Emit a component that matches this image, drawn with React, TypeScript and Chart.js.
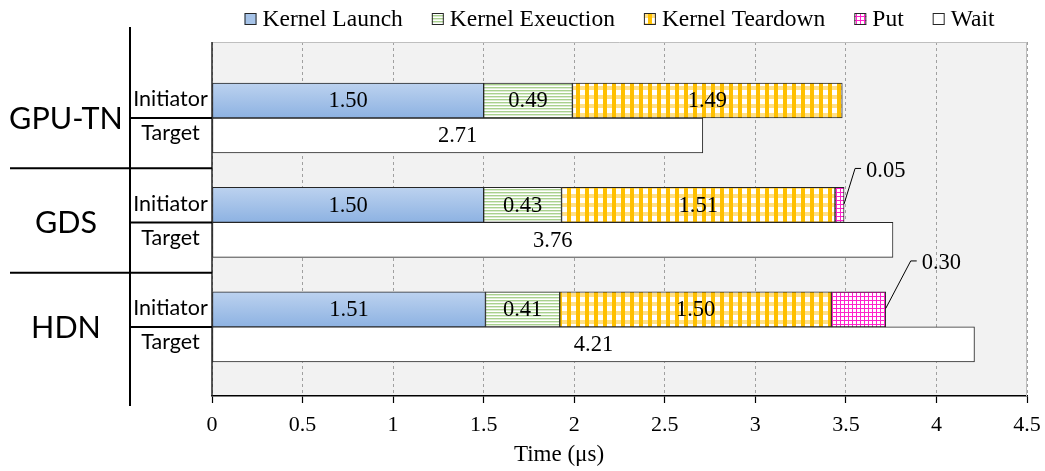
import React, { useEffect, useRef } from 'react';
import { Chart, registerables } from 'chart.js';

Chart.register(...registerables);

// ---------- data ----------
const GROUPS = ['GPU-TN', 'GDS', 'HDN'];
const ROLES = ['Initiator', 'Target'];
const SERIES_NAMES = ['Kernel Launch', 'Kernel Exeuction', 'Kernel Teardown', 'Put', 'Wait'];
const KERNEL_LAUNCH = [1.5, 1.5, 1.51];
const KERNEL_EXECUTION = [0.49, 0.43, 0.41];
const KERNEL_TEARDOWN = [1.49, 1.51, 1.5];
const PUT = [0, 0.05, 0.3];
const WAIT = [2.71, 3.76, 4.21];
const X_MIN = 0;
const X_MAX = 4.5;
const X_STEP = 0.5;
const X_TITLE = 'Time (μs)';

// ---------- layout / style ----------
const Y_MIN = -0.727;
const Y_MAX = 2.661;
const BAR_THICKNESS = 35;
const PUT_CALLOUT_OFFSETS = [
  [0, 0],
  [11, -36.5],
  [25, -48.5],
];
const SERIF = '"Liberation Serif", "Times New Roman", serif';
const SANS = 'Lato, "Open Sans", sans-serif';

function makePattern(
  base: CanvasRenderingContext2D,
  w: number,
  h: number,
  draw: (g: CanvasRenderingContext2D) => void
) {
  const c = document.createElement('canvas');
  c.width = w;
  c.height = h;
  const g = c.getContext('2d')!;
  draw(g);
  return base.createPattern(c, 'repeat')!;
}

export default function App() {
  const ref = useRef<HTMLCanvasElement>(null);

  useEffect(() => {
    const canvas = ref.current!;
    const ctx0 = canvas.getContext('2d')!;

    const execPattern = makePattern(ctx0, 4, 3, (g) => {
      g.fillStyle = '#ffffff';
      g.fillRect(0, 0, 4, 3);
      g.fillStyle = '#a9d18e';
      g.fillRect(0, 0, 4, 1);
      g.fillStyle = '#dcecd2';
      g.fillRect(0, 1, 4, 1);
    });
    const teardownPattern = makePattern(ctx0, 9, 9, (g) => {
      g.fillStyle = '#ffffff';
      g.fillRect(0, 0, 9, 9);
      g.fillStyle = '#ffe08a';
      g.fillRect(0, 5, 9, 4);
      g.fillStyle = '#ffc000';
      g.fillRect(0, 0, 4, 9);
    });
    const putPattern = makePattern(ctx0, 4, 4, (g) => {
      g.fillStyle = '#ffffff';
      g.fillRect(0, 0, 4, 4);
      g.fillStyle = '#ff22cc';
      g.fillRect(0, 0, 4, 1);
      g.fillRect(0, 0, 1, 4);
    });

    const launchFill = (c: any) => {
      const chart = c.chart;
      const ys = chart.scales && chart.scales.y;
      if (!ys || c.dataIndex == null || !chart.chartArea) return '#a6c3e8';
      const yc = ys.getPixelForValue(c.dataIndex);
      const g = chart.ctx.createLinearGradient(0, yc - BAR_THICKNESS, 0, yc);
      g.addColorStop(0, '#bcd2ef');
      g.addColorStop(1, '#8db2e2');
      return g;
    };

    const legendFills: any[] = ['#a6c3e8', execPattern, teardownPattern, putPattern, '#ffffff'];
    const seriesValues = [KERNEL_LAUNCH, KERNEL_EXECUTION, KERNEL_TEARDOWN, PUT, WAIT];
    const stacks = ['initiator', 'initiator', 'initiator', 'initiator', 'target'];
    const fills: any[] = [launchFill, execPattern, teardownPattern, putPattern, '#ffffff'];
    const PUT_INDEX = 3;

    const datasets = seriesValues.map((vals, di) => ({
      label: SERIES_NAMES[di],
      data: vals.map((v, i) => ({ x: v, y: i })),
      stack: stacks[di],
      backgroundColor: fills[di],
      borderColor: '#262626',
      borderWidth: 1,
      borderSkipped: false,
      barThickness: BAR_THICKNESS,
    }));

    const line = (ctx: CanvasRenderingContext2D, x1: number, y1: number, x2: number, y2: number) => {
      ctx.beginPath();
      ctx.moveTo(x1, y1);
      ctx.lineTo(x2, y2);
      ctx.stroke();
    };

    const decor = {
      id: 'decor',
      beforeDraw(chart: any) {
        const { ctx, chartArea: a } = chart;
        ctx.save();
        ctx.fillStyle = '#f2f2f2';
        ctx.fillRect(a.left, a.top, a.right - a.left, a.bottom - a.top);
        ctx.restore();
      },
      afterDatasetsDraw(chart: any) {
        const { ctx } = chart;
        ctx.save();
        ctx.fillStyle = '#000';
        ctx.strokeStyle = '#000';
        ctx.lineWidth = 1;
        ctx.font = `22.5px ${SERIF}`;
        seriesValues.forEach((vals, di) => {
          const meta = chart.getDatasetMeta(di);
          meta.data.forEach((bar: any, i: number) => {
            const v = vals[i];
            if (!v) return;
            const { x, y, base } = bar.getProps(['x', 'y', 'base'], true);
            const txt = v.toFixed(2);
            if (di === PUT_INDEX) {
              const [dx, dy] = PUT_CALLOUT_OFFSETS[i];
              ctx.beginPath();
              ctx.moveTo(x, y - 1);
              ctx.lineTo(x + dx, y + dy);
              ctx.lineTo(x + dx + 6, y + dy);
              ctx.stroke();
              ctx.textAlign = 'left';
              ctx.textBaseline = 'middle';
              ctx.fillText(txt, x + dx + 11, y + dy + 2.5);
            } else {
              ctx.textAlign = 'center';
              ctx.textBaseline = 'middle';
              ctx.fillText(txt, (x + base) / 2, y + 1);
            }
          });
        });
        ctx.restore();
      },
      afterDraw(chart: any) {
        const { ctx, chartArea: a } = chart;
        const ys = chart.scales.y;
        ctx.save();
        // plot area border
        ctx.strokeStyle = '#bfbfbf';
        ctx.lineWidth = 1;
        line(ctx, a.left, a.top + 0.5, a.right, a.top + 0.5);
        line(ctx, a.right - 0.5, a.top, a.right - 0.5, a.bottom);
        ctx.strokeStyle = '#262626';
        ctx.lineWidth = 1.5;
        line(ctx, a.left, a.top, a.left, a.bottom);

        // left category structure
        ctx.strokeStyle = '#000';
        ctx.lineWidth = 2;
        line(ctx, 130, 27, 130, 406);
        for (let k = 0; k < GROUPS.length - 1; k++) {
          const yb = ys.getPixelForValue(k + 0.5) - 2;
          line(ctx, 10, yb, a.left, yb);
        }
        GROUPS.forEach((_, k) => {
          const yc = ys.getPixelForValue(k);
          line(ctx, 130, yc, a.left, yc);
        });

        ctx.fillStyle = '#000';
        ctx.textAlign = 'center';
        ctx.textBaseline = 'alphabetic';
        GROUPS.forEach((g, k) => {
          const yc = ys.getPixelForValue(k);
          ctx.font = `30.5px ${SANS}`;
          ctx.fillText(g, 66, yc + 11);
          ctx.font = `21.5px ${SANS}`;
          ctx.fillText(ROLES[0], 170.5, yc - BAR_THICKNESS / 2 + 6);
          ctx.fillText(ROLES[1], 170.5, yc + BAR_THICKNESS / 2 + 5);
        });

        // legend
        ctx.font = `23.5px ${SERIF}`;
        const box = 12;
        const gapText = 6;
        const gapItem = 29;
        const widths = SERIES_NAMES.map((n) => ctx.measureText(n).width);
        const total =
          widths.reduce((s, w) => s + box + gapText + w, 0) + gapItem * (SERIES_NAMES.length - 1);
        let lx = (a.left + a.right) / 2 - total / 2;
        SERIES_NAMES.forEach((n, i) => {
          ctx.fillStyle = legendFills[i];
          ctx.fillRect(lx, 13, box, box);
          ctx.strokeStyle = '#262626';
          ctx.lineWidth = 1;
          ctx.strokeRect(lx + 0.5, 13.5, box - 1, box - 1);
          ctx.fillStyle = '#000';
          ctx.textAlign = 'left';
          ctx.textBaseline = 'alphabetic';
          ctx.fillText(n, lx + box + gapText, 25.5);
          lx += box + gapText + widths[i] + gapItem;
        });

        // axis title
        ctx.font = `23px ${SERIF}`;
        ctx.textAlign = 'center';
        ctx.fillText(X_TITLE, 559, 461);
        ctx.restore();
      },
    };

    const chart = new Chart(canvas, {
      type: 'bar',
      data: { datasets: datasets as any },
      options: {
        indexAxis: 'y',
        responsive: false,
        animation: false,
        events: [],
        layout: { padding: { left: 212, right: 18, top: 42, bottom: 0 } },
        plugins: {
          legend: { display: false },
          tooltip: { enabled: false },
        },
        scales: {
          x: {
            type: 'linear',
            min: X_MIN,
            max: X_MAX,
            stacked: true,
            afterFit: (s: any) => {
              s.height = 75;
              s.paddingLeft = 0;
              s.paddingRight = 0;
            },
            ticks: {
              stepSize: X_STEP,
              color: '#000',
              padding: 9,
              maxRotation: 0,
              autoSkip: false,
              font: { family: SERIF, size: 22 },
              callback: (v: any) => String(v),
            },
            grid: {
              color: '#a0a0a0',
              lineWidth: 1,
              tickColor: '#000',
              tickLength: 7,
              tickWidth: 1.2,
              tickBorderDash: [],
            },
            border: { display: true, color: '#000', width: 1.5, dash: [3, 3] },
          },
          y: {
            type: 'linear',
            min: Y_MIN,
            max: Y_MAX,
            reverse: true,
            stacked: true,
            offset: false,
            display: false,
            grid: { display: false },
          },
        },
      } as any,
      plugins: [decor],
    });
    return () => chart.destroy();
  }, []);

  return (
    <div style={{ position: 'fixed', left: 0, top: 0, width: 1045, height: 471 }}>
      <canvas ref={ref} width={1045} height={471} style={{ width: 1045, height: 471, display: 'block' }} />
    </div>
  );
}
